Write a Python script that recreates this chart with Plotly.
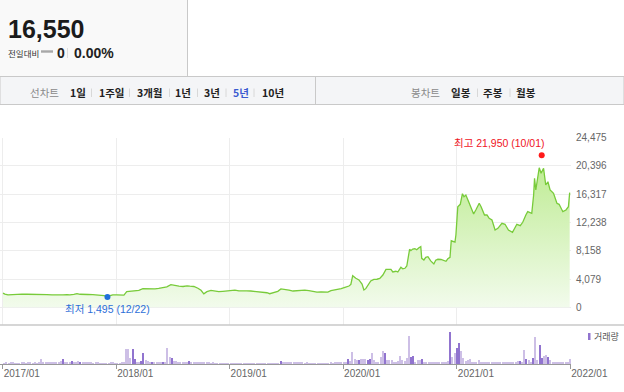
import plotly.graph_objects as go
import pandas as pd

# ---------------- data ----------------
price_dates = [
    "2017-01-02", "2017-01-08", "2017-01-18", "2017-02-03", "2017-02-16", "2017-03-04", "2017-03-20",
    "2017-04-08", "2017-04-24", "2017-05-11", "2017-05-23", "2017-06-09", "2017-06-25", "2017-07-04",
    "2017-07-14", "2017-07-27", "2017-08-05", "2017-08-18", "2017-08-28", "2017-09-07", "2017-09-19",
    "2017-10-02", "2017-10-18", "2017-10-31", "2017-11-10", "2017-11-23", "2017-12-03", "2017-12-12",
    "2017-12-21", "2018-01-03", "2018-01-16", "2018-01-26", "2018-02-04", "2018-02-17", "2018-03-02",
    "2018-03-15", "2018-03-28", "2018-04-10", "2018-04-23", "2018-05-06", "2018-05-18", "2018-05-31",
    "2018-06-13", "2018-06-26", "2018-07-09", "2018-07-22", "2018-08-04", "2018-08-17", "2018-08-26",
    "2018-09-08", "2018-09-21", "2018-10-01", "2018-10-10", "2018-10-20", "2018-11-02", "2018-11-15",
    "2018-11-27", "2018-12-10", "2018-12-23", "2019-01-05", "2019-01-18", "2019-01-31", "2019-02-13",
    "2019-02-25", "2019-03-10", "2019-03-23", "2019-04-05", "2019-04-18", "2019-05-01", "2019-05-10",
    "2019-05-23", "2019-06-05", "2019-06-15", "2019-06-28", "2019-07-11", "2019-07-24", "2019-08-05",
    "2019-08-18", "2019-08-31", "2019-09-13", "2019-09-26", "2019-10-09", "2019-10-22", "2019-11-03",
    "2019-11-13", "2019-11-23", "2019-12-06", "2019-12-15", "2019-12-26", "2020-01-07", "2020-01-20",
    "2020-01-26", "2020-02-01", "2020-02-11", "2020-02-21", "2020-03-02", "2020-03-08", "2020-03-14",
    "2020-03-24", "2020-03-30", "2020-04-09", "2020-04-19", "2020-04-28", "2020-05-08", "2020-05-18",
    "2020-06-03", "2020-06-09", "2020-06-19", "2020-06-25", "2020-07-05", "2020-07-11", "2020-07-18",
    "2020-07-24", "2020-08-02", "2020-08-06", "2020-08-12", "2020-08-19", "2020-08-25", "2020-09-01",
    "2020-09-07", "2020-09-10", "2020-09-17", "2020-09-23", "2020-09-30", "2020-10-09", "2020-10-19",
    "2020-10-25", "2020-11-01", "2020-11-11", "2020-11-17", "2020-11-27", "2020-12-03", "2020-12-10",
    "2020-12-14", "2020-12-19", "2020-12-26", "2020-12-29", "2021-01-04", "2021-01-12", "2021-01-19",
    "2021-01-24", "2021-01-30", "2021-02-08", "2021-02-16", "2021-02-24", "2021-03-03", "2021-03-14",
    "2021-03-20", "2021-03-31", "2021-04-08", "2021-04-15", "2021-04-24", "2021-05-04", "2021-05-13",
    "2021-05-26", "2021-06-05", "2021-06-16", "2021-06-29", "2021-07-08", "2021-07-13", "2021-07-24",
    "2021-08-01", "2021-08-11", "2021-08-17", "2021-08-30", "2021-09-05", "2021-09-08", "2021-09-12",
    "2021-09-23", "2021-09-29", "2021-10-07", "2021-10-14", "2021-10-21", "2021-10-28", "2021-11-08",
    "2021-11-19", "2021-11-26", "2021-12-08", "2021-12-18", "2021-12-26", "2021-12-30",
]
price_values = [
    2050, 1900, 1800, 1850, 1880, 1900, 1880,
    1890, 1850, 1830, 1820, 1790, 1760, 1720,
    1780, 1840, 1790, 1870, 1960, 1880, 1830,
    1850, 1820, 1780, 1750, 1700, 1560, 1700,
    1780, 1800, 1790, 1760, 2250, 2300, 2350,
    2450, 2700, 2650, 2600, 2650, 2720, 2860,
    2950, 3260, 3100, 3050, 3000, 3100, 3050,
    3000, 2750, 2450, 1950, 2250, 2450, 2320,
    2250, 2300, 2350, 2450, 2480, 2380, 2330,
    2380, 2350, 2300, 2250, 2200, 2100, 1960,
    2150, 2300, 2650, 2600, 2480, 2350, 2420,
    2500, 2470, 2400, 2250, 2200, 2230, 2250,
    2200, 2400, 2500, 2600, 2700, 2880, 3070,
    3300, 4560, 4200, 3950, 3360, 2500, 2690,
    3300, 3800, 4040, 4050, 4180, 4660, 5480,
    5480, 5100, 5200, 5090, 5770, 5550, 5630,
    5960, 8370, 8170, 8400, 8450, 8300, 8600,
    8750, 7070, 6830, 7200, 7300, 6700, 6250,
    6800, 6930, 6900, 6830, 6640, 7000, 7220,
    9600, 9470, 9400, 10430, 14520, 14860, 16390,
    15960, 16200, 15240, 14290, 13460, 14040, 15010,
    14520, 13320, 13320, 12840, 12600, 11150, 11400,
    12120, 11980, 11150, 10820, 11490, 11980, 11780,
    12270, 13320, 13800, 13560, 16200, 18620, 16930,
    20140, 19340, 20060, 17650, 18120, 16930, 16450,
    15010, 14860, 13800, 14040, 14520, 16550,
]

y_tick_values = [0, 4079, 8158, 12238, 16317, 20396, 24475]
y_tick_labels = ["0", "4,079", "8,158", "12,238", "16,317", "20,396", "24,475"]

high_value, high_label_date, high_plot_date = 21950, "10/01", "2021-10-01"
low_value, low_label_date, low_plot_date = 1495, "12/22", "2017-12-04"

current_price = "16,550"
change_value = "0"
change_pct = "0.00%"

period_tabs = ["1일", "1주일", "3개월", "1년", "3년", "5년", "10년"]
candle_tabs = ["일봉", "주봉", "월봉"]
selected_tab = "5년"

volume_week_start = "2017-01-06"
volume_values = [
    100, 120, 100, 110, 120, 100, 90, 100, 120, 110,
    100, 130, 110, 100, 120, 100, 130, 470, 150, 120,
    130, 200, 150, 120, 110, 130, 300, 530, 120, 110,
    150, 300, 130, 150, 270, 200, 150, 130, 120, 110,
    130, 100, 120, 110, 100, 90, 80, 60, 40, 200,
    120, 100, 100, 100, 120, 150, 1530, 1530, 600, 1530,
    530, 200, 200, 330, 1100, 370, 270, 150, 130, 120,
    150, 130, 150, 200, 200, 1600, 700, 600, 330, 270,
    200, 130, 150, 120, 130, 270, 200, 200, 120, 130,
    150, 120, 130, 150, 120, 100, 120, 100, 80, 100,
    90, 80, 100, 80, 60, 100, 50, 40, 30, 30,
    30, 30, 30, 30, 30, 30, 30, 30, 30, 30,
    30, 30, 30, 30, 30, 30, 60, 300, 200, 130,
    130, 120, 130, 120, 130, 120, 110, 120, 100, 110,
    100, 40, 30, 30, 30, 30, 40, 60, 100, 100,
    110, 100, 120, 150, 120, 150, 130, 200, 470, 300,
    1200, 530, 370, 370, 500, 500, 500, 370, 530, 1100,
    370, 200, 200, 700, 1270, 1100, 370, 370, 370, 200,
    150, 270, 800, 370, 270, 600, 2800, 700, 800, 200,
    370, 370, 530, 200, 200, 150, 200, 200, 150, 200,
    150, 200, 200, 150, 270, 3230, 700, 1130, 1600, 2100,
    1270, 600, 270, 370, 470, 200, 150, 200, 370, 200,
    150, 200, 150, 200, 150, 150, 200, 150, 150, 200,
    150, 150, 200, 150, 150, 200, 270, 270, 200, 1370,
    530, 370, 200, 600, 2700, 370, 1900, 600, 800, 930,
    700, 370, 200, 200, 150, 200, 200, 150, 200, 150,
    470,
]
volume_dark_weeks = [27, 31, 35, 59, 60, 63, 64, 68, 73, 77, 85, 127, 158, 163, 167, 168,
                     175, 187, 188, 192, 205, 208, 209, 237, 240, 243, 246, 247, 250]

# ---------------- styling / layout helpers ----------------
W, H = 624, 392
FONT = "Liberation Sans, Noto Sans CJK KR, sans-serif"
KFONT = "Noto Sans CJK KR, Liberation Sans, sans-serif"
LINE_GREEN = "#78cb3a"
VOL_LIGHT = "#cdbfe6"
VOL_DARK = "#9174cf"


def px(x):
    return x / W


def py(y):
    return 1 - y / H


volume_dates = pd.date_range(volume_week_start, periods=len(volume_values), freq="7D")
dark_set = set(volume_dark_weeks)
volume_colors = [VOL_DARK if i in dark_set else VOL_LIGHT for i in range(len(volume_values))]

x_range = ["2016-12-23 07:30", "2022-01-03 06:00"]
plot_right = 571

fig = go.Figure()

fig.add_trace(go.Scatter(
    x=price_dates, y=price_values, mode="lines",
    line=dict(color=LINE_GREEN, width=1.3),
    fill="tozeroy",
    fillgradient=dict(type="vertical",
                      colorscale=[[0, "rgba(242,251,236,1)"], [1, "rgba(192,236,150,1)"]],
                      start=0, stop=20000),
    hoverinfo="skip", xaxis="x", yaxis="y",
))

fig.add_trace(go.Scatter(
    x=[high_plot_date], y=[high_value], mode="markers",
    marker=dict(color="#ff1a1a", size=6), xaxis="x", yaxis="y", hoverinfo="skip",
))
fig.add_trace(go.Scatter(
    x=[low_plot_date], y=[low_value], mode="markers",
    marker=dict(color="#1f6fdb", size=6), xaxis="x", yaxis="y", hoverinfo="skip",
))

fig.add_trace(go.Bar(
    x=volume_dates, y=volume_values, marker=dict(color=volume_colors, line=dict(width=0)),
    width=3.4 * 86400000, xaxis="x2", yaxis="y2", hoverinfo="skip",
))

fig.update_layout(
    template="none", autosize=False,
    width=W, height=H, margin=dict(l=0, r=0, t=0, b=0, pad=0, autoexpand=False),
    paper_bgcolor="white", plot_bgcolor="rgba(0,0,0,0)",
    showlegend=False, font=dict(family=FONT, color="#666"),
    xaxis=dict(type="date", range=x_range, domain=[0, px(plot_right)], anchor="y",
               showgrid=True, gridcolor="#ededed", gridwidth=1, dtick="M12", tick0="2017-01-01",
               showticklabels=False, zeroline=False, showline=False, fixedrange=True, automargin=False),
    yaxis=dict(domain=[py(325), py(137.7)], range=[-2554, 24475], side="right", anchor="x",
               tickvals=y_tick_values, ticktext=y_tick_labels, showgrid=True, gridcolor="#ededed",
               zeroline=False, showline=False, ticks="", tickfont=dict(size=10, color="#666"),
               ticklabelstandoff=4, fixedrange=True, automargin=False),
    xaxis2=dict(type="date", range=x_range, domain=[0, px(plot_right)], anchor="y2",
                showgrid=False, dtick="M12", tick0="2017-01-01", tickformat="%Y/%m",
                ticks="outside", ticklen=4, tickcolor="#999", tickwidth=1,
                ticklabelposition="outside right", tickfont=dict(size=10, color="#666"),
                showline=True, linecolor="#999", linewidth=1, zeroline=False, fixedrange=True,
                automargin=False),
    yaxis2=dict(domain=[py(364), py(327)], range=[0, 3700], anchor="x2", visible=False,
                fixedrange=True, automargin=False),
    bargap=0,
)

shapes = []
annotations = []

# header box
shapes.append(dict(type="rect", xref="paper", yref="paper", x0=0, x1=px(187.5), y0=py(76.5), y1=py(0),
                   fillcolor="#f9f9f9", line=dict(width=0), layer="below"))
shapes.append(dict(type="line", xref="paper", yref="paper", x0=px(187.5), x1=px(187.5), y0=py(76.5), y1=py(0),
                   line=dict(color="#c9c9c9", width=1)))
annotations.append(dict(text=f"<b>{current_price}</b>", xref="paper", yref="paper", x=px(5.5), y=py(28.5),
                        xanchor="left", yanchor="middle", showarrow=False,
                        font=dict(size=25, color="#1b1b1b", family=FONT)))
annotations.append(dict(text="전일대비", xref="paper", yref="paper", x=px(5.5), y=py(53),
                        xanchor="left", yanchor="middle", showarrow=False,
                        font=dict(size=8.5, color="#333", family=KFONT)))
shapes.append(dict(type="rect", xref="paper", yref="paper", x0=px(41), x1=px(53), y0=py(52.7), y1=py(50.3),
                   fillcolor="#a8a8a8", line=dict(width=0)))
annotations.append(dict(text=f"<b>{change_value}</b>", xref="paper", yref="paper", x=px(54.5), y=py(53),
                        xanchor="left", yanchor="middle", showarrow=False,
                        font=dict(size=14, color="#222", family=FONT)))
shapes.append(dict(type="line", xref="paper", yref="paper", x0=px(67.5), x1=px(67.5), y0=py(58), y1=py(48),
                   line=dict(color="#dddddd", width=1)))
annotations.append(dict(text=f"<b>{change_pct}</b>", xref="paper", yref="paper", x=px(71.5), y=py(53),
                        xanchor="left", yanchor="middle", showarrow=False,
                        font=dict(size=14, color="#222", family=FONT)))

# tab bar
shapes.append(dict(type="rect", xref="paper", yref="paper", x0=0, x1=1, y0=py(104.5), y1=py(76.5),
                   fillcolor="#f4f5f7", line=dict(color="#c9c9c9", width=1), layer="below"))
shapes.append(dict(type="line", xref="paper", yref="paper", x0=px(315.5), x1=px(315.5), y0=py(104.5), y1=py(76.5),
                   line=dict(color="#c9c9c9", width=1)))
tab_y = 92.5
annotations.append(dict(text="선차트", xref="paper", yref="paper", x=px(44), y=py(tab_y),
                        xanchor="center", yanchor="middle", showarrow=False,
                        font=dict(size=10.5, color="#8a8a8a", family=KFONT)))
annotations.append(dict(text="봉차트", xref="paper", yref="paper", x=px(425), y=py(tab_y),
                        xanchor="center", yanchor="middle", showarrow=False,
                        font=dict(size=10.5, color="#8a8a8a", family=KFONT)))
period_centers = [78, 112, 150, 183, 212, 241, 273]
for label, cx in zip(period_tabs, period_centers):
    col = "#3a5bd0" if label == selected_tab else "#222"
    annotations.append(dict(text=f"<b>{label}</b>", xref="paper", yref="paper", x=px(cx), y=py(tab_y),
                            xanchor="center", yanchor="middle", showarrow=False,
                            font=dict(size=10.5, color=col, family=KFONT)))
candle_centers = [461, 493, 526]
for label, cx in zip(candle_tabs, candle_centers):
    annotations.append(dict(text=f"<b>{label}</b>", xref="paper", yref="paper", x=px(cx), y=py(tab_y),
                            xanchor="center", yanchor="middle", showarrow=False,
                            font=dict(size=10.5, color="#222", family=KFONT)))
for sx in [91.5, 129.5, 169.5, 197.5, 226, 254, 477.5, 510]:
    shapes.append(dict(type="line", xref="paper", yref="paper", x0=px(sx), x1=px(sx), y0=py(97), y1=py(88.5),
                       line=dict(color="#d8d8d8", width=1)))

# separator between price and volume panels
shapes.append(dict(type="line", xref="paper", yref="paper", x0=0, x1=1, y0=py(325), y1=py(325),
                   line=dict(color="#c8c8c8", width=1.5)))

# high / low labels
annotations.append(dict(text=f"최고 {high_value:,} ({high_label_date})", x=high_plot_date, y=high_value,
                        xref="x", yref="y", xanchor="right", yanchor="bottom", xshift=5, yshift=4,
                        showarrow=False, font=dict(size=10.5, color="#f0141e", family=FONT)))
annotations.append(dict(text=f"최저 {low_value:,} ({low_label_date})", x=low_plot_date, y=low_value,
                        xref="x", yref="y", xanchor="center", yanchor="top", yshift=-4,
                        showarrow=False, font=dict(size=10.5, color="#2d6fd8", family=FONT)))

# volume legend
shapes.append(dict(type="rect", xref="paper", yref="paper", x0=px(588), x1=px(590.5), y0=py(340), y1=py(333),
                   fillcolor=VOL_DARK, line=dict(width=0)))
annotations.append(dict(text="거래량", xref="paper", yref="paper", x=px(591.5), y=py(336.5),
                        xanchor="left", yanchor="middle", showarrow=False,
                        font=dict(size=9, color="#555", family=KFONT)))

fig.update_layout(shapes=shapes, annotations=annotations)

fig.write_html("out.html", config={"displayModeBar": False})

# remove the default page margin so the figure sits at the window's top-left corner
with open("out.html", encoding="utf-8") as fh:
    page = fh.read()
page = page.replace("<head>", "<head><style>html,body{margin:0;padding:0;overflow:hidden;}</style>", 1)
with open("out.html", "w", encoding="utf-8") as fh:
    fh.write(page)
